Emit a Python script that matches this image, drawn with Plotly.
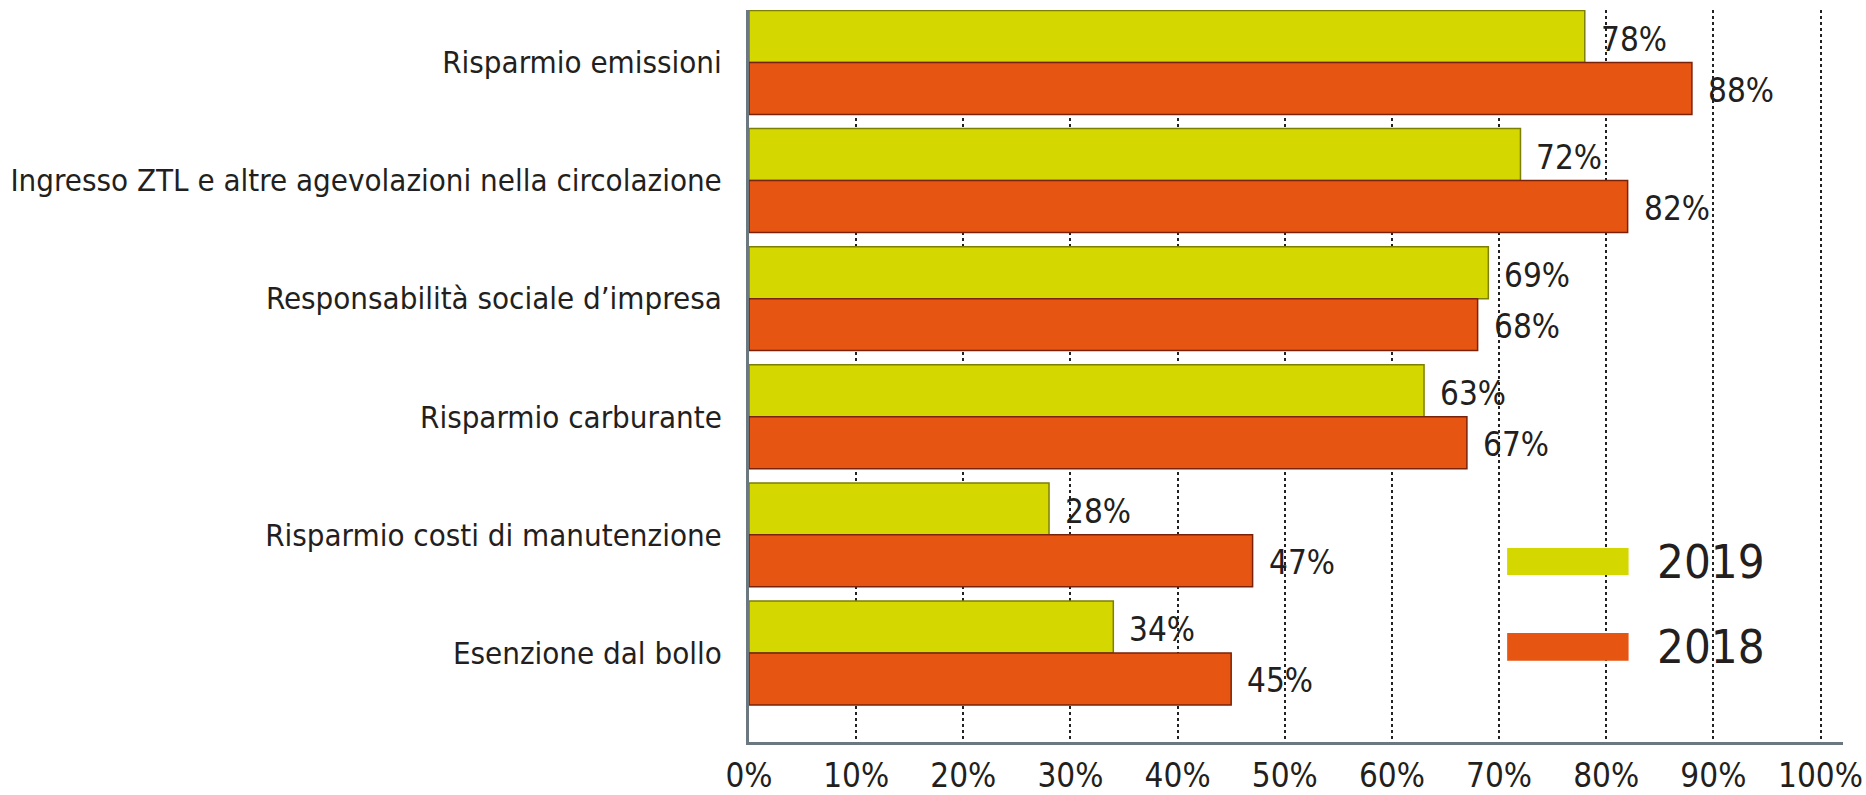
import plotly.graph_objects as go

# data
categories = [
    "Risparmio emissioni",
    "Ingresso ZTL e altre agevolazioni nella circolazione",
    "Responsabilità sociale d’impresa",
    "Risparmio carburante",
    "Risparmio costi di manutenzione",
    "Esenzione dal bollo",
]
values_2019 = [78, 72, 69, 63, 28, 34]
values_2018 = [88, 82, 68, 67, 47, 45]
x_ticks = [0, 10, 20, 30, 40, 50, 60, 70, 80, 90, 100]
x_tick_labels = [f"{v}%" for v in x_ticks]

GREEN = "#D4D700"
ORANGE = "#E75512"
FONT = "DejaVu Sans Condensed, Liberation Sans Narrow, sans-serif"
TEXT_COLOR = "#231f20"
AXIS_COLOR = "#6b7880"

fig = go.Figure()

fig.add_trace(go.Bar(
    y=categories, x=values_2019, name="2019", orientation="h",
    marker=dict(color=GREEN, line=dict(color="#7d7f00", width=1.5)),
))
fig.add_trace(go.Bar(
    y=categories, x=values_2018, name="2018", orientation="h",
    marker=dict(color=ORANGE, line=dict(color="#7a2208", width=1.5)),
))

# value labels just right of each bar
annotations = []
for cat, v in zip(categories, values_2019):
    annotations.append(dict(
        x=v, y=cat, text=f"{v}%", showarrow=False, xanchor="left",
        xshift=14, yshift=23, font=dict(family=FONT, size=33, color=TEXT_COLOR),
    ))
for cat, v in zip(categories, values_2018):
    annotations.append(dict(
        x=v, y=cat, text=f"{v}%", showarrow=False, xanchor="left",
        xshift=14, yshift=-28, font=dict(family=FONT, size=33, color=TEXT_COLOR),
    ))

# legend drawn by hand (large swatches)
legend_items = [("2019", GREEN, 0.265, 0.228), ("2018", ORANGE, 0.149, 0.111)]
shapes = []
for name, color, y1, y0 in legend_items:
    shapes.append(dict(
        type="rect", xref="paper", yref="paper",
        x0=0.693, x1=0.804, y0=y0, y1=y1,
        fillcolor=color, line=dict(width=0), layer="above",
    ))
    annotations.append(dict(
        x=0.828, y=(y0 + y1) / 2, xref="paper", yref="paper",
        text=name, showarrow=False, xanchor="left", yanchor="middle",
        font=dict(family=FONT, size=47, color=TEXT_COLOR),
    ))

fig.update_layout(
    width=1866, height=795,
    margin=dict(l=749, r=23, t=10, b=53),
    paper_bgcolor="white", plot_bgcolor="white",
    barmode="group", bargap=0.12, bargroupgap=0,
    showlegend=False,
    annotations=annotations,
    shapes=shapes,
    font=dict(family=FONT, color=TEXT_COLOR),
)

fig.update_xaxes(
    range=[0, 102.1],
    tickvals=x_ticks, ticktext=x_tick_labels,
    tickfont=dict(family=FONT, size=33, color=TEXT_COLOR),
    showgrid=True, gridcolor="#222222", gridwidth=2, griddash="dot",
    zeroline=False, automargin=False,
    showline=True, linecolor=AXIS_COLOR, linewidth=3,
    ticks="", ticklabelstandoff=2,
)
fig.update_yaxes(
    range=[5.754, -0.444],
    tickfont=dict(family=FONT, size=31, color=TEXT_COLOR),
    showgrid=False, zeroline=False, automargin=False,
    showline=True, linecolor=AXIS_COLOR, linewidth=3,
    ticks="", ticklabelstandoff=18,
)

# drop the page's default body margin so the figure fills the window exactly
fig.write_html(
    "out.html",
    config={"displayModeBar": False},
    post_script="document.body.style.margin='0px';",
)
